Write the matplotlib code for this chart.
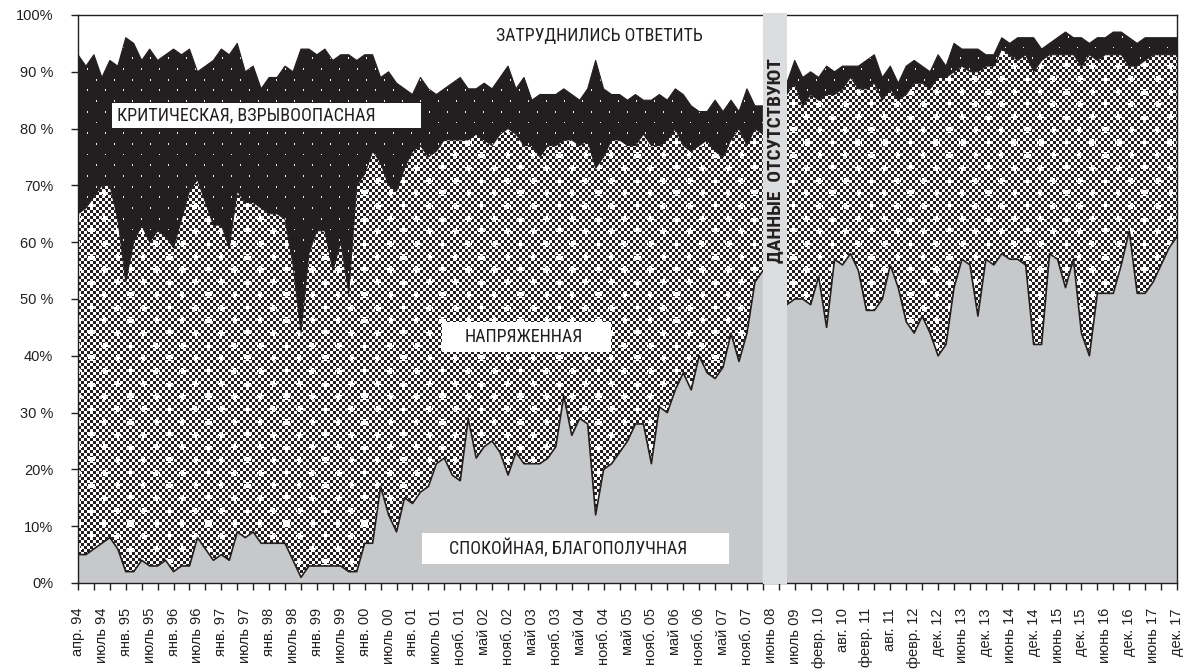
import numpy as np
import matplotlib
matplotlib.use('Agg')
import matplotlib.pyplot as plt
from matplotlib import font_manager as fm
from matplotlib.path import Path
from matplotlib.patches import Rectangle
import matplotlib.transforms as mtransforms

# ---------------- data (share of answers, %) ----------------
calm = [5, 5, 6, 7, 8, 6, 2, 2, 4, 3, 3, 4, 2, 3, 3, 8, 6, 4, 5, 4,
        9, 8, 9, 7, 7, 7, 7, 4, 1, 3, 3, 3, 3, 3, 2, 2, 7, 7, 17, 12,
        9, 15, 14, 16, 17, 21, 22, 19, 18, 29, 22, 24, 25, 23, 19, 23, 21, 21, 21, 22,
        24, 33, 26, 29, 28, 12, 20, 21, 23, 25, 28, 28, 21, 31, 30, 34, 37, 34, 40, 37,
        36, 38, 44, 39, 44, 53, 55, None, None, 49, 50, 50, 49, 54, 45, 57, 56, 58, 55, 48,
        48, 50, 56, 52, 46, 44, 47, 44, 40, 42, 52, 57, 56, 47, 57, 56, 58, 57, 57, 56,
        42, 42, 58, 57, 52, 57, 44, 40, 51, 51, 51, 56, 62, 51, 51, 53, 56, 59, 61]
tense = [60, 61, 62, 63, 62, 58, 51, 58, 59, 57, 59, 57, 57, 61, 66, 63, 61, 59, 58, 55,
         60, 59, 58, 59, 58, 58, 57, 52, 43, 55, 59, 59, 52, 57, 49, 68, 65, 69, 57, 58,
         60, 58, 62, 61, 58, 55, 56, 59, 60, 49, 57, 54, 52, 56, 61, 56, 56, 56, 54, 55,
         53, 45, 52, 48, 50, 61, 55, 57, 55, 52, 49, 51, 56, 46, 48, 46, 40, 42, 37, 41,
         40, 37, 34, 41, 33, 27, 24, None, None, 37, 38, 34, 37, 31, 41, 29, 31, 31, 32, 39,
         40, 35, 31, 33, 40, 44, 41, 43, 49, 47, 38, 34, 34, 43, 34, 35, 36, 36, 35, 37,
         48, 50, 35, 36, 41, 36, 47, 53, 41, 42, 42, 37, 29, 40, 41, 40, 37, 34, 32]
critical = [28, 25, 25, 19, 22, 27, 43, 35, 29, 34, 30, 32, 35, 29, 25, 19, 24, 29, 31, 34,
            26, 23, 24, 21, 24, 24, 27, 34, 50, 36, 31, 32, 37, 33, 42, 22, 21, 17, 15, 20,
            19, 14, 10, 12, 12, 10, 9, 10, 11, 9, 8, 10, 10, 10, 11, 8, 12, 8, 11, 9,
            9, 9, 8, 8, 9, 19, 12, 8, 8, 8, 9, 6, 8, 9, 7, 7, 9, 8, 6, 5,
            9, 8, 7, 3, 10, 4, 5, None, None, 2, 4, 5, 4, 4, 5, 4, 4, 2, 4, 5,
            5, 4, 4, 3, 5, 4, 3, 3, 4, 2, 5, 3, 4, 4, 2, 2, 2, 2, 4, 3,
            6, 2, 2, 3, 4, 3, 5, 2, 4, 3, 4, 4, 5, 4, 4, 3, 3, 3, 3]

x_labels = ['апр. 94', 'июль 94', 'янв. 95', 'июль 95', 'янв. 96', 'июль 96', 'янв. 97',
            'июль 97', 'янв. 98', 'июль 98', 'янв. 99', 'июль 99', 'янв. 00', 'июль 00',
            'янв. 01', 'июль 01', 'нояб. 01', 'май 02', 'нояб. 02', 'май 03', 'нояб. 03',
            'май 04', 'нояб. 04', 'май 05', 'нояб. 05', 'май 06', 'нояб. 06', 'май 07',
            'нояб. 07', 'июнь 08', 'июль 09', 'февр. 10', 'авг. 10', 'февр. 11', 'авг. 11',
            'февр. 12', 'дек. 12', 'июнь 13', 'дек. 13', 'июнь 14', 'дек. 14', 'июнь 15',
            'дек. 15', 'июнь 16', 'дек. 16', 'июнь 17', 'дек. 17']
y_labels = ['0%', '10%', '20%', '30 %', '40%', '50 %', '60 %', '70%', '80 %', '90 %', '100%']

series_names = ['СПОКОЙНАЯ, БЛАГОПОЛУЧНАЯ', 'НАПРЯЖЕННАЯ',
                'КРИТИЧЕСКАЯ, ВЗРЫВООПАСНАЯ', 'ЗАТРУДНИЛИСЬ ОТВЕТИТЬ']
no_data_text = 'ДАННЫЕ  ОТСУТСТВУЮТ'
no_data_from, no_data_to = 86, 89   # category span of the missing surveys

# ---------------- fonts ----------------
names = {f.name for f in fm.fontManager.ttflist}
def pick(*cands):
    for c in cands:
        if c in names:
            return c
    return 'DejaVu Sans'
COND = pick('Liberation Sans Narrow', 'Roboto Condensed', 'Roboto', 'Liberation Sans')
REG = pick('Liberation Sans', 'Arimo', 'DejaVu Sans')
plt.rcParams['font.family'] = [REG, 'DejaVu Sans']

DARK = '#231f20'
GRAY = '#c7c8ca'
BAND = '#dcdddf'

def arr(v):
    return np.array([np.nan if a is None else a for a in v], dtype=float)

c_a, t_a, k_a = arr(calm), arr(tense), arr(critical)
x = np.arange(len(c_a))
b1 = c_a
b2 = b1 + t_a
b3 = b2 + k_a
n = len(x) - 1

W_PX, H_PX = 1188, 671
L, R, T, B = 78, 1177, 15, 583
fig = plt.figure(figsize=(W_PX / 100, H_PX / 100), dpi=100)
ax = fig.add_axes([L / W_PX, (H_PX - B) / H_PX, (R - L) / W_PX, (B - T) / H_PX])

# ---------------- textures ----------------
H, W = B - T, R - L
yy, xx = np.mgrid[0:H, 0:W]
yy = yy.astype(float)
xx = xx.astype(float)

def lattice(sx, sy, off):
    r = np.floor(yy / sy + 0.5)
    dy = yy - r * sy
    shift = (r % 2) * off
    dx = (xx - shift + sx / 2) % sx - sx / 2
    return dx, dy

dark_rgb = np.array([0x23, 0x1f, 0x20]) / 255.0
checker = ((xx // 3 + yy // 3) % 2) == 0
pdx, pdy = lattice(26, 12.7, 13)
plus = ((np.abs(pdx) <= 3) & (np.abs(pdy) <= 1.0)) | ((np.abs(pdx) <= 1.0) & (np.abs(pdy) <= 3))
white_t = checker | plus
tex_t = np.where(white_t[..., None], 1.0, dark_rgb[None, None, :])

ddx, ddy = lattice(18, 10.7, 9)
dots = (np.abs(ddx) <= 0.9) & (np.abs(ddy) <= 0.9)
tex_k = np.where(dots[..., None], np.array([0.95, 0.95, 0.95])[None, None, :], dark_rgb[None, None, :])

# ---------------- areas ----------------
ax.fill_between(x, 0, b1, facecolor=GRAY, linewidth=0, zorder=1.5)

def textured(lower, upper, tex):
    pc = ax.fill_between(x, lower, upper, facecolor='none', edgecolor='none', linewidth=0)
    path = Path.make_compound_path(*pc.get_paths())
    im = ax.imshow(tex, extent=(0, n, 0, 100), origin='upper', interpolation='nearest',
                   aspect='auto', zorder=2)
    im.set_clip_path(path, ax.transData)

textured(b1, b2, tex_t)
textured(b2, b3, tex_k)

ax.plot(x, b1, color=DARK, lw=1.2, zorder=3)
ax.plot(x, b2, color=DARK, lw=0.7, zorder=3)
ax.plot(x, b3, color=DARK, lw=0.8, zorder=3)

ax.set_xlim(0, n)
ax.set_ylim(0, 100)

# ---------------- labels in the plot ----------------
boxes = [
    (series_names[2], (4.3, 80.1, 38.8, 4.4), (4.9, 82.3), 259),
    (series_names[1], (45.7, 40.7, 21.2, 5.3), (48.5, 43.3), 118),
    (series_names[0], (43.2, 3.35, 38.6, 5.45), (46.6, 6.07), 237),
]
texts = []
for label, (bx, by, bw, bh), (tx, ty), tw in boxes:
    ax.add_patch(Rectangle((bx, by), bw, bh, facecolor='white', edgecolor='none', zorder=5))
    t = ax.text(tx, ty, label, ha='left', va='center', fontsize=13, family=[COND, 'DejaVu Sans'],
                color=DARK, zorder=5.5)
    texts.append((t, tw, True))
t = ax.text(52.5, 96.3, series_names[3], ha='left', va='center', fontsize=13,
            family=[COND, 'DejaVu Sans'], color=DARK, zorder=5.5)
texts.append((t, 205, True))

trans = mtransforms.blended_transform_factory(ax.transData, ax.transAxes)
ax.add_patch(Rectangle((no_data_from, -0.002), no_data_to - no_data_from, 1.006,
                       transform=trans, facecolor=BAND, edgecolor='none', zorder=6, clip_on=False))
t = ax.text((no_data_from + no_data_to) / 2, 74.4, no_data_text, rotation=90, ha='center',
            va='center', fontsize=13, fontweight='bold', family=[COND, 'DejaVu Sans'],
            color=DARK, zorder=7)
texts.append((t, 205, False))

# ---------------- axes ----------------
for s in ax.spines.values():
    s.set_color(DARK)
    s.set_linewidth(1.0)

ax.set_yticks(range(0, 101, 10))
ax.set_yticklabels(y_labels)
ax.tick_params(axis='y', length=5, width=1, pad=13, labelsize=10.5, color=DARK, labelcolor=DARK)

ax.xaxis.remove_overlapping_locs = False
ax.tick_params(axis='x', which='major', length=5, width=1, color=DARK)
ax.tick_params(axis='x', which='minor', length=0, pad=18, labelsize=10.5, labelcolor=DARK)
ax.set_xticks(range(0, n + 1, 2))
ax.set_xticklabels([])
ax.set_xticks(range(0, n + 1, 3), minor=True)
ax.set_xticklabels(x_labels, minor=True, rotation=90, va='top', ha='center')

# fit label text widths
fig.canvas.draw()
rend = fig.canvas.get_renderer()
for t, target, horiz in texts:
    bb = t.get_window_extent(rend)
    cur = bb.width if horiz else bb.height
    if cur > 0:
        t.set_fontsize(t.get_fontsize() * target / cur)

fig.savefig('out.png', dpi=100)
